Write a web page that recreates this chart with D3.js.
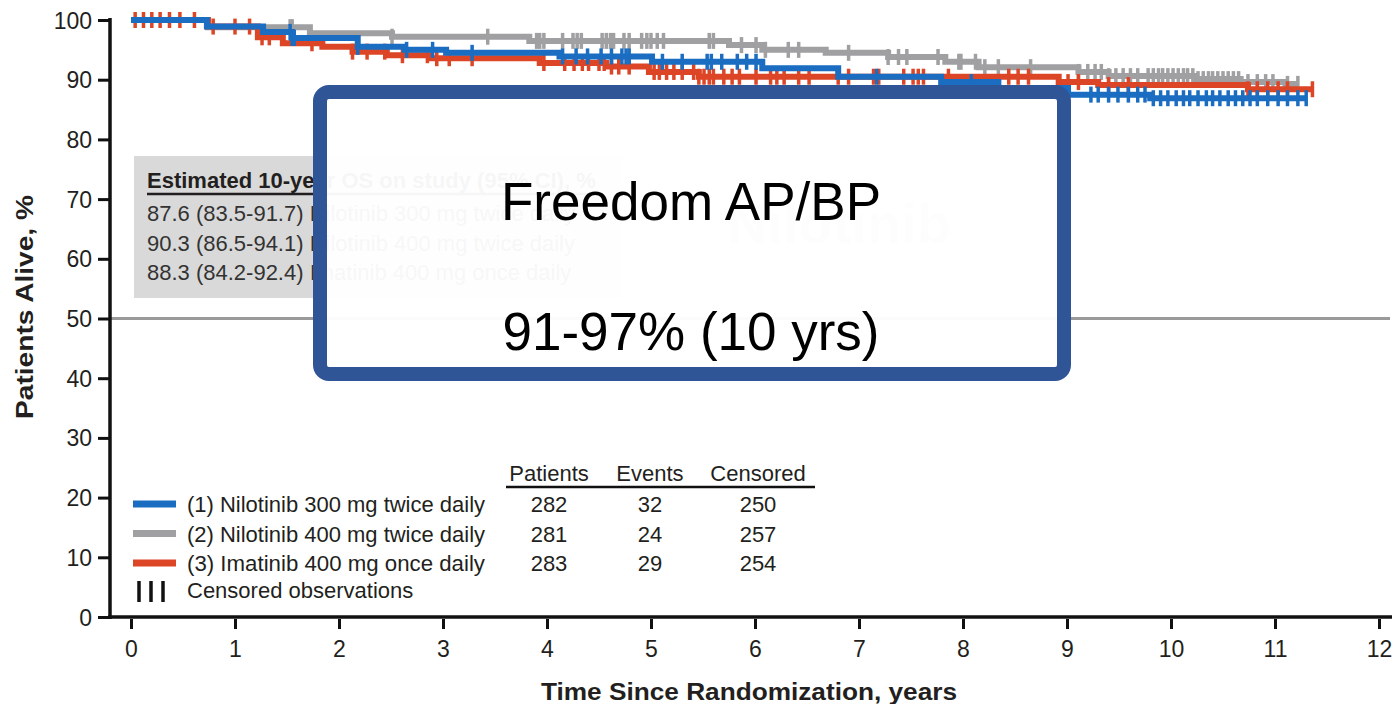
<!DOCTYPE html>
<html><head><meta charset="utf-8">
<script src="https://cdn.jsdelivr.net/npm/d3@7"></script>
<style>html,body{margin:0;padding:0;background:#fff;}svg{display:block;font-family:"Liberation Sans",Arial,sans-serif;}</style>
</head><body><svg id="c" width="1394" height="704"></svg>
<script>
// ---------- data ----------
const xTicks = [0,1,2,3,4,5,6,7,8,9,10,11,12];
const yTicks = [0,10,20,30,40,50,60,70,80,90,100];
const seriesLabels = ["(1) Nilotinib 300 mg twice daily","(2) Nilotinib 400 mg twice daily","(3) Imatinib 400 mg once daily"];
const patients = [282,281,283];
const events = [32,24,29];
const censored = [250,257,254];
const estimates = ["87.6 (83.5-91.7) Nilotinib 300 mg twice daily","90.3 (86.5-94.1) Nilotinib 400 mg twice daily","88.3 (84.2-92.4) Imatinib 400 mg once daily"];

// Kaplan-Meier step points [years, % alive]
const blueSteps = [[0,100],[0.73,98.9],[1.27,98.0],[1.55,97.0],[2.18,95.5],[2.63,95.0],[3.03,94.5],[4.12,93.9],[5.01,93.0],[6.07,91.9],[6.80,90.5],[7.79,89.6],[8.34,88.6],[9.01,87.5],[9.80,86.9]];
const blueEnd = 11.30;
const blueCensor = [1.53,1.55,1.57,2.18,2.65,2.90,3.28,4.15,4.28,4.39,4.52,4.62,4.72,4.76,4.79,5.11,5.30,5.54,5.58,5.68,5.83,5.92,6.01,7.17,8.08,9.23,9.30,9.40,9.49,9.59,9.68,9.75,9.83,9.90,9.97,10.05,10.12,10.18,10.26,10.34,10.40,10.47,10.55,10.62,10.69,10.76,10.83,10.93,11.03,11.12,11.22,11.30];

const graySteps = [[0,100],[0.74,98.8],[1.72,97.8],[2.51,97.2],[3.83,96.5],[5.75,95.8],[6.07,95.0],[6.68,94.5],[7.28,93.8],[7.83,93.0],[8.15,92.1],[9.11,91.3],[9.40,90.6],[10.23,90.1],[10.67,89.6],[11.10,89.3]];
const grayEnd = 11.22;
const grayCensor = [1.53,1.55,1.72,2.51,3.43,3.90,3.93,3.97,4.15,4.25,4.29,4.33,4.53,4.57,4.61,4.64,4.74,4.79,4.91,4.96,5.00,5.06,5.12,5.56,5.60,5.87,6.01,6.10,6.32,6.42,6.90,7.28,7.38,7.46,7.76,7.96,7.98,8.12,8.21,8.34,8.65,9.11,9.20,9.27,9.33,9.40,9.47,9.54,9.61,9.68,9.78,9.83,9.88,9.92,9.97,10.02,10.07,10.12,10.16,10.21,10.26,10.31,10.36,10.40,10.45,10.50,10.55,10.60,10.65,10.74,10.83,10.91,10.98,11.12,11.22];

const redSteps = [[0,100],[0.74,98.9],[1.22,97.1],[1.46,96.1],[1.84,95.5],[2.13,94.7],[2.46,94.1],[2.87,93.6],[3.93,92.8],[4.57,92.2],[4.98,91.3],[5.46,90.5],[8.92,89.6],[9.30,89.1],[10.74,88.4]];
const redEnd = 11.36;
const redCensor = [0.04,0.12,0.20,0.28,0.37,0.47,0.61,0.79,1.00,1.14,1.26,1.33,1.74,2.13,2.27,2.44,2.61,2.85,2.94,3.06,3.28,3.97,4.17,4.26,4.34,4.40,4.50,4.55,4.62,4.69,4.79,5.03,5.08,5.15,5.22,5.30,5.41,5.46,5.51,5.56,5.60,5.70,5.78,5.85,6.01,6.15,6.21,6.28,6.42,6.52,6.80,6.90,7.14,7.19,7.43,7.52,7.57,7.62,7.86,8.44,8.53,8.63,8.92,9.01,9.11,9.40,9.59,10.74,10.83,10.93,11.03,11.12,11.36];

// ---------- layout ----------
const svg = d3.select("#c");
const x = d3.scaleLinear().domain([0,12]).range([131,1379]);
const y = d3.scaleLinear().domain([0,100]).range([617,20]);
const colors = {blue:"#1a6dc0", gray:"#a0a0a2", red:"#dd4527"};
const FONT = "'Liberation Sans',Arial,sans-serif";

// grey estimate box
svg.append("rect").attr("x",134).attr("y",156).attr("width",488).attr("height",142).attr("fill","#d9d9d9");
svg.append("text").attr("x",147).attr("y",188).attr("font-size",22).attr("font-weight","bold").attr("fill","#231f20")
  .text("Estimated 10-year OS on study (95% CI), %");
svg.append("line").attr("x1",147).attr("x2",600).attr("y1",194).attr("y2",194).attr("stroke","#231f20").attr("stroke-width",2.5);
estimates.forEach((t,i)=>{
  svg.append("text").attr("x",147).attr("y",221+i*29.5).attr("font-size",22).attr("fill","#333").text(t);
});

// 50% reference line
svg.append("line").attr("x1",110).attr("x2",1390).attr("y1",y(50)).attr("y2",y(50)).attr("stroke","#9a9a9a").attr("stroke-width",3);

// faint watermark
svg.append("text").attr("x",727).attr("y",243).attr("font-size",56).attr("font-weight","bold").attr("fill","#c8c8c8").text("Nilotinib");

// axes
const yAxis = d3.axisLeft(y).tickValues(yTicks).tickSize(12).tickSizeOuter(0);
const gy = svg.append("g").attr("transform","translate(110,0)").call(yAxis);
gy.select(".domain").attr("stroke","#111").attr("stroke-width",3.5).attr("d","M0,18V619");
gy.selectAll(".tick line").attr("stroke","#111").attr("stroke-width",3);
gy.selectAll(".tick text").attr("font-size",23).attr("font-family",FONT).attr("fill","#231f20").attr("x",-18).attr("dy","0.35em");

const xAxis = d3.axisBottom(x).tickValues(xTicks).tickSize(12).tickSizeOuter(0);
const gx = svg.append("g").attr("transform","translate(0,617)").call(xAxis);
gx.select(".domain").attr("stroke","#111").attr("stroke-width",3.5).attr("d","M108,0H1392");
gx.selectAll(".tick line").attr("stroke","#111").attr("stroke-width",3).attr("y1",2);
gx.selectAll(".tick text").attr("font-size",23).attr("font-family",FONT).attr("fill","#231f20").attr("y",24);

svg.append("text").attr("x",749).attr("y",700).attr("text-anchor","middle").attr("font-size",23).attr("font-weight","bold")
  .attr("fill","#231f20").attr("textLength",416).attr("lengthAdjust","spacingAndGlyphs").text("Time Since Randomization, years");
svg.append("text").attr("transform","translate(33,307) rotate(-90)").attr("text-anchor","middle").attr("font-size",23)
  .attr("font-weight","bold").attr("fill","#231f20").attr("textLength",224).attr("lengthAdjust","spacingAndGlyphs").text("Patients Alive, %");

// KM curves
function stepVal(steps,t){let v=steps[0][1];for(const s of steps){if(s[0]<=t)v=s[1];}return v;}
const line = d3.line().x(d=>x(d[0])).y(d=>y(d[1])).curve(d3.curveStepAfter);
function drawKM(steps,end,cens,col){
  const pts = steps.concat([[end, steps[steps.length-1][1]]]);
  svg.append("path").attr("d",line(pts)).attr("fill","none").attr("stroke",col).attr("stroke-width",6);
  svg.append("g").selectAll("line").data(cens).join("line")
    .attr("x1",d=>x(d)).attr("x2",d=>x(d))
    .attr("y1",d=>y(stepVal(steps,d))-8).attr("y2",d=>y(stepVal(steps,d))+8)
    .attr("stroke",col).attr("stroke-width",3.5);
}
drawKM(graySteps,grayEnd,grayCensor,colors.gray);
drawKM(redSteps,redEnd,redCensor,colors.red);
drawKM(blueSteps,blueEnd,blueCensor,colors.blue);

// legend
const legCols = [colors.blue,colors.gray,colors.red];
seriesLabels.forEach((lab,i)=>{
  const yy = 504+i*29.5;
  svg.append("line").attr("x1",133).attr("x2",176).attr("y1",yy).attr("y2",yy).attr("stroke",legCols[i]).attr("stroke-width",7);
  svg.append("text").attr("x",187).attr("y",yy+8).attr("font-size",22).attr("fill","#231f20")
    .attr("textLength",298).attr("lengthAdjust","spacingAndGlyphs").text(lab);
  [[549,patients[i]],[650,events[i]],[758,censored[i]]].forEach(([cx,v])=>{
    svg.append("text").attr("x",cx).attr("y",yy+8).attr("text-anchor","middle").attr("font-size",22).attr("fill","#231f20").text(v);
  });
});
[139,151,163].forEach(cx=>svg.append("line").attr("x1",cx).attr("x2",cx).attr("y1",581).attr("y2",602).attr("stroke","#111").attr("stroke-width",3.5));
svg.append("text").attr("x",187).attr("y",598).attr("font-size",22).attr("fill","#231f20").text("Censored observations");
[[549,"Patients"],[650,"Events"],[758,"Censored"]].forEach(([cx,t])=>{
  svg.append("text").attr("x",cx).attr("y",481).attr("text-anchor","middle").attr("font-size",22).attr("fill","#231f20").text(t);
});
svg.append("line").attr("x1",506).attr("x2",815).attr("y1",487).attr("y2",487).attr("stroke","#111").attr("stroke-width",2.5);

// overlay box
svg.append("rect").attr("x",320).attr("y",92).attr("width",744).attr("height",282).attr("rx",9)
  .attr("fill","#fff").attr("fill-opacity",0.96).attr("stroke","#2f5597").attr("stroke-width",14);
svg.append("text").attr("x",691).attr("y",220).attr("text-anchor","middle").attr("font-size",53).attr("fill","#000").text("Freedom AP/BP");
svg.append("text").attr("x",691).attr("y",350).attr("text-anchor","middle").attr("font-size",53).attr("fill","#000").text("91-97% (10 yrs)");
</script></body></html>
